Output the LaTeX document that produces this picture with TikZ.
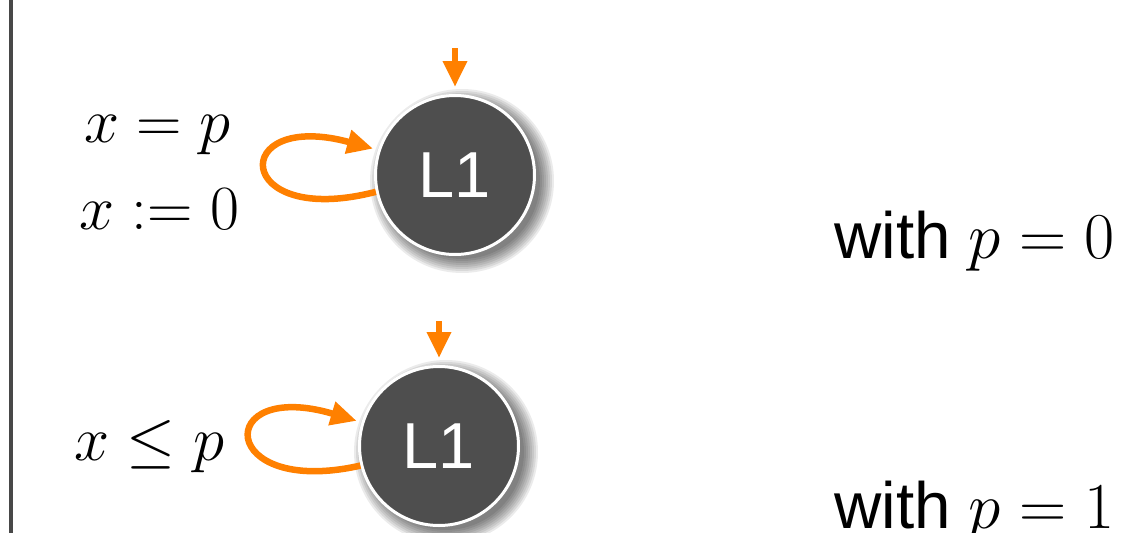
\RequirePackage{fix-cm}
\documentclass[tikz,border=0pt]{standalone}
\usepackage{fontspec}
\setsansfont{Liberation Sans}
\usetikzlibrary{arrows.meta,calc}
\definecolor{orng}{RGB}{255,128,0}
\definecolor{stategray}{RGB}{78,78,78}
\definecolor{bargray}{RGB}{72,72,72}
\tikzset{
  statenode/.style={circle, fill=stategray, draw=white, line width=3pt, minimum size=159pt, inner sep=0pt, text=white, font=\sffamily\fontsize{65}{70}\selectfont},
  orangearrow/.style={draw=orng, line width=6.5pt, -{Triangle[length=26pt,width=23pt]}},
  mathlabel/.style={anchor=base west, inner sep=0pt, font=\fontsize{63}{70}\selectfont},
  withlabel/.style={anchor=base west, inner sep=0pt, font=\sffamily\fontsize{65.5}{70}\selectfont},
  shadowring/.style={fill=black, opacity=0.08},
}
\begin{document}
\begin{tikzpicture}[x=1pt,y=1pt]
\useasboundingbox (0,0) rectangle (1133,-533);
\fill[white] (0,0) rectangle (1133,-533);
% left bar
\coordinate (bt) at (11,0);
\coordinate (bb) at (11,-533);
\draw[bargray, line width=4pt] (bt) -- (bb);
% centres
\coordinate (c1) at (455,-175);
\coordinate (c2) at (439,-446);
% shadows
\foreach \r in {78,80,...,92} {
  \fill[shadowring] ($(c1)+(7,-6)$) circle (\r);
  \fill[shadowring] ($(c2)+(7,-6)$) circle (\r);
}
% states
\node[statenode] (s1) at (c1) {L1};
\node[statenode] (s2) at (c2) {L1};
% initial arrows
\coordinate (i1) at (455,-48);
\coordinate (i2) at (439,-321);
\draw[orangearrow, shorten >=7pt] (i1) -- (s1.north);
\draw[orangearrow, shorten >=7pt] (i2) -- (s2.north);
% self loops
\draw[orangearrow, shorten >=5pt] (s1.192) .. controls ($(s1)+(-223,-54)$) and ($(s1)+(-227,66)$) .. (s1.162);
\draw[orangearrow, shorten >=5pt] (s2.194) .. controls ($(s2)+(-222,-52)$) and ($(s2)+(-226,68)$) .. (s2.163);
% labels
\node[mathlabel] (g1) at (84,-142) {$x = p$};
\node[mathlabel] (r1) at (79,-229) {$x := 0$};
\node[mathlabel] (g2) at (74,-460) {$x \le p$};
\node[withlabel] (w1) at (834,-258) {with $p = 0$};
\node[withlabel] (w2) at (834,-528) {with $p = 1$};
\end{tikzpicture}
\end{document}
